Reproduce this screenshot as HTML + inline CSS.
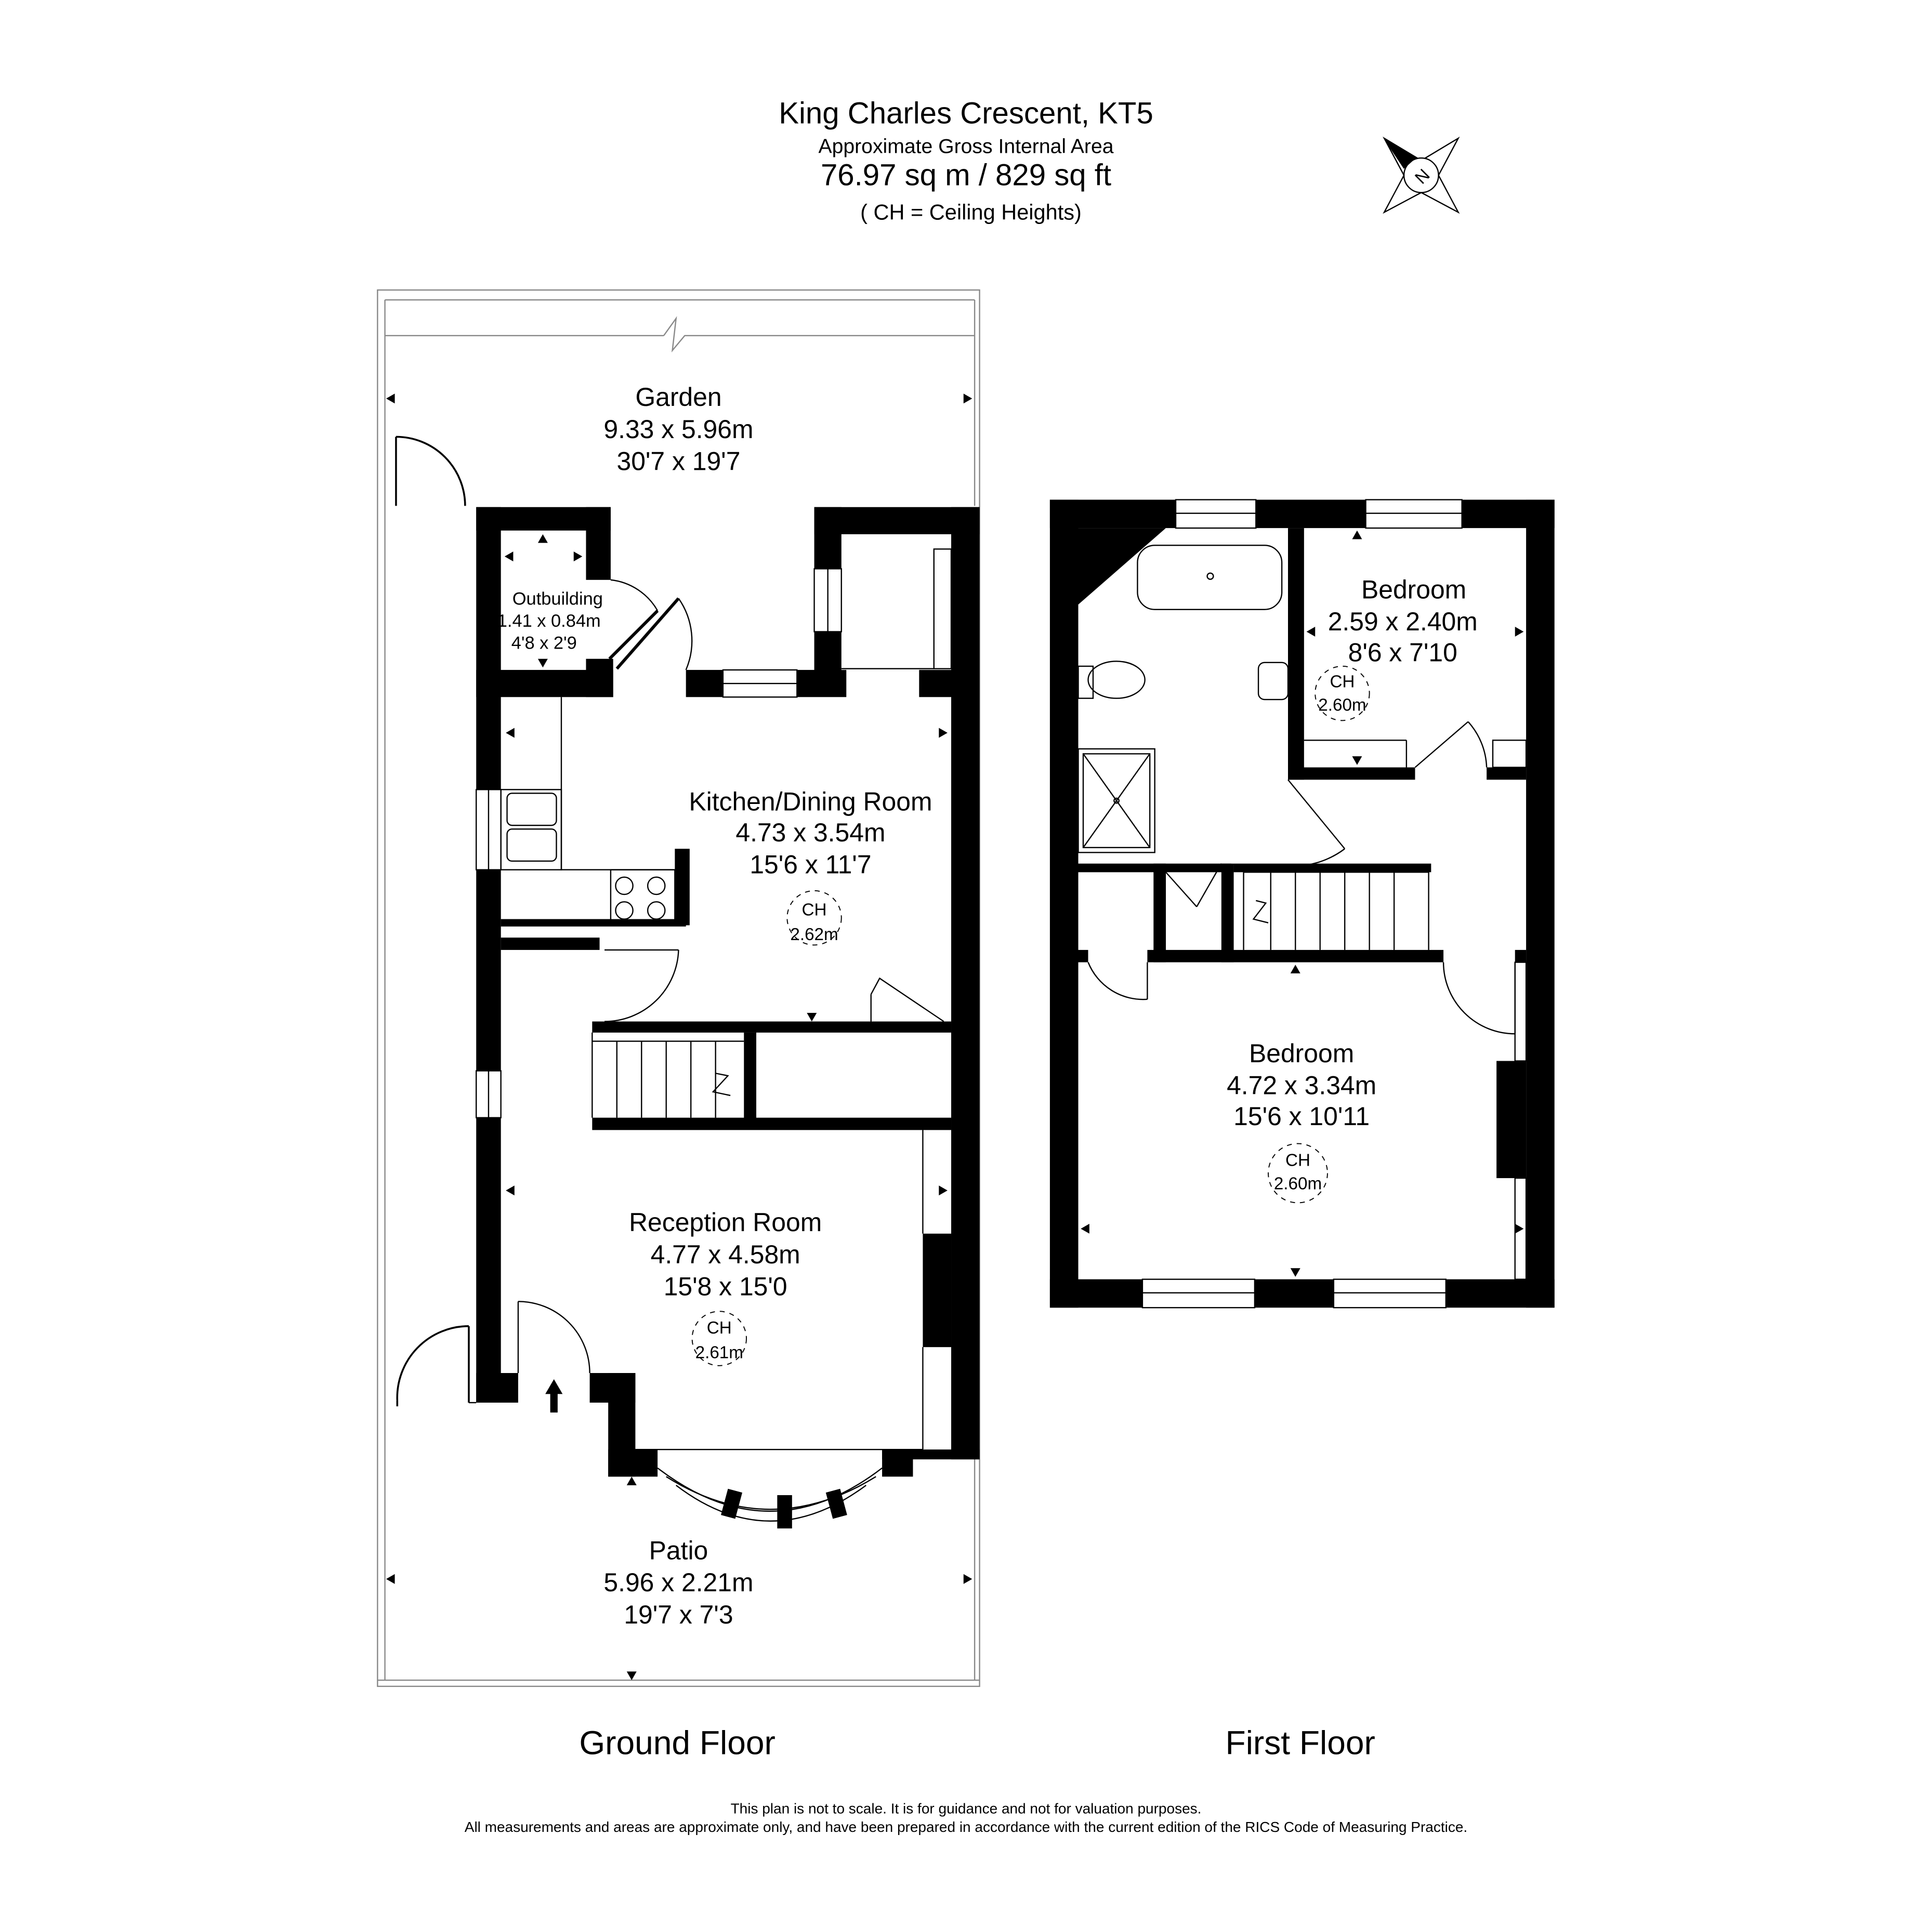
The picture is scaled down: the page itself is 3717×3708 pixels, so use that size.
<!DOCTYPE html>
<html><head><meta charset="utf-8"><style>
html,body{margin:0;padding:0;background:#fff}
svg{display:block}
text{font-family:"Liberation Sans",Arial,sans-serif;fill:#000}
</style></head><body>
<svg width="3717" height="3708" viewBox="0 0 1566 1562" xmlns="http://www.w3.org/2000/svg">
<rect width="1566" height="1562" fill="#fff"/>
<text x="783" y="100" font-size="24.5" text-anchor="middle">King Charles Crescent, KT5</text>
<text x="783" y="124" font-size="16.5" text-anchor="middle">Approximate Gross Internal Area</text>
<text x="783" y="150" font-size="24.5" text-anchor="middle">76.97 sq m /  829 sq ft</text>
<text x="787" y="178" font-size="17.5" text-anchor="middle">( CH = Ceiling Heights)</text>
<g stroke="#000" stroke-width="1" fill="#fff">
<polygon points="1122,112 1152,130 1182,112 1166,142 1182,172 1152,156 1122,172 1138,142"/>
<circle cx="1152" cy="142" r="14"/>
<polygon points="1122,112 1147,128 1138,136" fill="#000"/>
</g>
<text x="1152" y="148" font-size="14" text-anchor="middle" transform="rotate(-45 1152 142)">N</text>

<g fill="none" stroke="#888" stroke-width="1">
<rect x="306" y="235" width="488" height="1132"/>
<line x1="312" y1="243" x2="790" y2="243"/>
<line x1="312" y1="243" x2="312" y2="1362"/>
<line x1="306" y1="1362" x2="794" y2="1362"/>
<line x1="312" y1="272" x2="538" y2="272"/><polyline points="538,272 548,258 545,284 555,272 790,272"/>
<line x1="790" y1="243" x2="790" y2="410"/>
<line x1="790" y1="1183" x2="790" y2="1362"/>
</g>
<g fill="none" stroke="#000" stroke-width="1.5">
<line x1="321" y1="354" x2="321" y2="410"/><path d="M321,354 A56,56 0 0 1 377,410"/>
<line x1="380" y1="1075" x2="380" y2="1137"/><path d="M380,1075 A58,58 0 0 0 322,1135"/>
<line x1="322" y1="1135" x2="322" y2="1140"/>
</g>

<g fill="#000">
<rect x="386" y="411" width="109" height="19"/>
<rect x="386" y="411" width="20" height="726"/>
<rect x="475" y="411" width="20" height="59"/>
<rect x="475" y="534" width="22" height="31"/>
<rect x="386" y="543" width="111" height="22"/>
<rect x="556" y="543" width="30" height="22"/>
<rect x="646" y="543" width="40" height="22"/>
<rect x="745" y="543" width="30" height="22"/>
<rect x="660" y="411" width="134" height="22"/>
<rect x="660" y="411" width="22" height="50"/>
<rect x="660" y="512" width="22" height="50"/>
<rect x="771" y="411" width="23" height="772"/>
<rect x="406" y="745" width="150" height="6"/>
<rect x="547" y="688" width="12" height="62"/>
<rect x="406" y="760" width="80" height="10"/>
<rect x="480" y="828" width="291" height="9"/>
<rect x="480" y="906" width="291" height="10"/>
<rect x="603" y="837" width="10" height="70"/>
<rect x="748" y="1000" width="23" height="92"/>
<rect x="386" y="1113" width="34" height="24"/>
<rect x="478" y="1113" width="37" height="24"/>
<rect x="493" y="1113" width="22" height="84"/>
<rect x="493" y="1175" width="40" height="22"/>
<rect x="715" y="1175" width="79" height="8"/>
<rect x="715" y="1175" width="25" height="22"/>
</g>
<g fill="#fff" stroke="#000" stroke-width="1">
<rect x="586" y="543" width="60" height="22"/><line x1="586" y1="554" x2="646" y2="554"/>
<rect x="660" y="461" width="22" height="51"/><line x1="671" y1="461" x2="671" y2="512"/>
<rect x="386" y="640" width="20" height="65"/><line x1="396" y1="640" x2="396" y2="705"/>
<rect x="386" y="868" width="20" height="38"/><line x1="396" y1="868" x2="396" y2="906"/>
<rect x="757" y="445" width="14" height="97"/>
</g>
<g fill="none" stroke="#000" stroke-width="1">
<path d="M533,1190 Q624,1260 715,1190"/>
<path d="M540,1197 Q624,1250 710,1197"/>
<path d="M548,1204 Q624,1262 702,1204"/>
</g>
<g fill="#000">
<rect x="587" y="1208" width="12" height="22" transform="rotate(15 593 1219)"/>
<rect x="630" y="1212" width="12" height="27"/>
<rect x="672" y="1208" width="12" height="22" transform="rotate(-15 678 1219)"/>
</g>
<g fill="none" stroke="#000" stroke-width="2.5">
<line x1="494" y1="534" x2="533" y2="495"/><line x1="500" y1="542" x2="550" y2="485"/>
</g>
<g fill="none" stroke="#000" stroke-width="1">
<path d="M495,470 A50,50 0 0 1 533,495"/>
<path d="M550,485 A60,60 0 0 1 556,543"/>
<line x1="682" y1="542" x2="757" y2="542"/>
<polyline points="455,565 455,705 547,705"/>
<rect x="406" y="640" width="49" height="65"/>
<rect x="411" y="643" width="40" height="26" rx="4"/><rect x="411" y="672" width="40" height="26" rx="4"/>
<rect x="495" y="705" width="52" height="45"/>
<circle cx="506" cy="718" r="7"/><circle cx="532" cy="718" r="7"/><circle cx="506" cy="738" r="7"/><circle cx="532" cy="738" r="7"/>
<line x1="490" y1="770" x2="550" y2="770"/><path d="M550,770 A60,60 0 0 1 490,828"/>
<line x1="480" y1="844" x2="603" y2="844"/>
<line x1="480" y1="906" x2="480" y2="837"/>
<line x1="500" y1="844" x2="500" y2="906"/><line x1="520" y1="844" x2="520" y2="906"/><line x1="540" y1="844" x2="540" y2="906"/><line x1="560" y1="844" x2="560" y2="906"/><line x1="580" y1="844" x2="580" y2="906"/>
<polyline points="580,870 590,872 578,885 592,888"/>
<line x1="706" y1="828" x2="706" y2="806"/><path d="M706,806 L713,793 L765,828"/>
<line x1="748" y1="916" x2="748" y2="1000"/><line x1="748" y1="1092" x2="748" y2="1175"/>
<line x1="515" y1="1175" x2="748" y2="1175"/>
<line x1="420" y1="1055" x2="420" y2="1113"/><path d="M420,1055 A58,58 0 0 1 478,1113"/>
<line x1="380" y1="1137" x2="386" y2="1137"/>
</g>
<polygon points="442,1130 449,1118 456,1130 452,1130 452,1145 446,1145 446,1130" fill="#000"/>
<g fill="#000">
<polygon points="313,323 320,319 320,327"/><polygon points="788,323 781,319 781,327"/>
<polygon points="313,1280 320,1276 320,1284"/><polygon points="788,1280 781,1276 781,1284"/>
<polygon points="512,1362 508,1355 516,1355"/>
<polygon points="410,594 417,590 417,598"/><polygon points="768,594 761,590 761,598"/>
<polygon points="658,828 654,821 662,821"/>
<polygon points="410,965 417,961 417,969"/><polygon points="768,965 761,961 761,969"/>
<polygon points="512,1197 508,1204 516,1204"/>
<polygon points="440,433 436,440 444,440"/><polygon points="440,541 436,534 444,534"/>
<polygon points="409,451 416,447 416,455"/><polygon points="472,451 465,447 465,455"/>
<polygon points="412,770 408,762 416,762"/>
</g>
<text x="550" y="329" font-size="21" text-anchor="middle">Garden</text>
<text x="550" y="355" font-size="21" text-anchor="middle">9.33 x 5.96m</text>
<text x="550" y="381" font-size="21" text-anchor="middle">30'7 x 19'7</text>
<text x="452" y="490" font-size="14.5" text-anchor="middle">Outbuilding</text>
<text x="445" y="508" font-size="14.5" text-anchor="middle">1.41 x 0.84m</text>
<text x="441" y="526" font-size="14.5" text-anchor="middle">4'8 x 2'9</text>
<text x="657" y="657" font-size="21" text-anchor="middle">Kitchen/Dining Room</text>
<text x="657" y="682" font-size="21" text-anchor="middle">4.73 x 3.54m</text>
<text x="657" y="708" font-size="21" text-anchor="middle">15'6 x 11'7</text>
<circle cx="660" cy="744" r="22" fill="none" stroke="#000" stroke-width="0.8" stroke-dasharray="4,4"/>
<text x="660" y="742" font-size="14" text-anchor="middle">CH</text>
<text x="660" y="762" font-size="14" text-anchor="middle">2.62m</text>
<text x="588" y="998" font-size="21" text-anchor="middle">Reception Room</text>
<text x="588" y="1024" font-size="21" text-anchor="middle">4.77 x 4.58m</text>
<text x="588" y="1050" font-size="21" text-anchor="middle">15'8 x 15'0</text>
<circle cx="583" cy="1085" r="22" fill="none" stroke="#000" stroke-width="0.8" stroke-dasharray="4,4"/>
<text x="583" y="1081" font-size="14" text-anchor="middle">CH</text>
<text x="583" y="1101" font-size="14" text-anchor="middle">2.61m</text>
<text x="550" y="1264" font-size="21" text-anchor="middle">Patio</text>
<text x="550" y="1290" font-size="21" text-anchor="middle">5.96 x 2.21m</text>
<text x="550" y="1316" font-size="21" text-anchor="middle">19'7 x 7'3</text>
<text x="549" y="1422" font-size="27" text-anchor="middle">Ground Floor</text>

<g fill="#000">
<rect x="851" y="405" width="409" height="23"/>
<rect x="851" y="405" width="23" height="655"/>
<rect x="1237" y="405" width="23" height="655"/>
<rect x="851" y="1037" width="409" height="23"/>
<polygon points="874,428 945,428 874,490"/>
<rect x="1044" y="428" width="13" height="204"/>
<rect x="1044" y="622" width="103" height="10"/>
<rect x="1205" y="622" width="32" height="10"/>
<rect x="874" y="700" width="124" height="7"/>
<rect x="1000" y="700" width="160" height="7"/>
<rect x="935" y="700" width="10" height="80"/>
<rect x="990" y="700" width="10" height="80"/>
<rect x="874" y="770" width="8" height="10"/>
<rect x="930" y="770" width="240" height="10"/>
<rect x="1228" y="770" width="9" height="10"/>
<rect x="1213" y="860" width="24" height="95"/>
</g>
<g fill="#fff" stroke="#000" stroke-width="1">
<rect x="953" y="405" width="65" height="23"/><line x1="953" y1="416" x2="1018" y2="416"/>
<rect x="1107" y="405" width="78" height="23"/><line x1="1107" y1="416" x2="1185" y2="416"/>
<rect x="926" y="1037" width="91" height="23"/><line x1="926" y1="1048" x2="1017" y2="1048"/>
<rect x="1081" y="1037" width="91" height="23"/><line x1="1081" y1="1048" x2="1172" y2="1048"/>
<rect x="1228" y="780" width="9" height="80"/>
<rect x="1228" y="955" width="9" height="82"/>
</g>
<g fill="none" stroke="#000" stroke-width="1">
<rect x="922" y="442" width="117" height="52" rx="14"/>
<circle cx="981" cy="467" r="2.5"/>
<rect x="874" y="540" width="12" height="26"/><ellipse cx="905" cy="551" rx="23" ry="15"/>
<rect x="1020" y="537" width="24" height="30" rx="5"/>
<rect x="874" y="607" width="62" height="84"/><rect x="878" y="611" width="54" height="76"/>
<line x1="878" y1="611" x2="932" y2="687"/><line x1="932" y1="611" x2="878" y2="687"/><circle cx="905" cy="649" r="2"/>
<line x1="1057" y1="600" x2="1140" y2="600"/><line x1="1140" y1="600" x2="1140" y2="622"/>
<rect x="1210" y="600" width="27" height="22"/>
<line x1="1044" y1="632" x2="1090" y2="688"/><path d="M1090,688 A70,70 0 0 1 1044,702"/>
<line x1="1147" y1="622" x2="1190" y2="585"/><path d="M1190,585 A58,58 0 0 1 1205,622"/>
<line x1="945" y1="707" x2="970" y2="735"/><line x1="970" y1="735" x2="990" y2="700"/>
<line x1="1008" y1="707" x2="1008" y2="770"/><line x1="1158" y1="707" x2="1158" y2="770"/>
<line x1="1008" y1="707" x2="1158" y2="707"/>
<line x1="1030" y1="707" x2="1030" y2="770"/><line x1="1050" y1="707" x2="1050" y2="770"/><line x1="1070" y1="707" x2="1070" y2="770"/><line x1="1090" y1="707" x2="1090" y2="770"/><line x1="1110" y1="707" x2="1110" y2="770"/><line x1="1130" y1="707" x2="1130" y2="770"/>
<polyline points="1018,730 1026,732 1016,745 1028,748"/>
<line x1="930" y1="780" x2="930" y2="810"/><path d="M882,780 A48,48 0 0 0 930,810"/>
<line x1="1228" y1="838" x2="1228" y2="780"/><path d="M1170,780 A58,58 0 0 0 1228,838"/>
</g>
<g fill="#000">
<polygon points="1100,430 1096,437 1104,437"/><polygon points="1100,620 1096,613 1104,613"/>
<polygon points="1059,512 1066,508 1066,516"/><polygon points="1235,512 1228,508 1228,516"/>
<polygon points="1050,782 1046,789 1054,789"/><polygon points="1050,1035 1046,1028 1054,1028"/>
<polygon points="876,996 883,992 883,1000"/><polygon points="1235,996 1228,992 1228,1000"/>
</g>
<text x="1146" y="485" font-size="21" text-anchor="middle">Bedroom</text>
<text x="1137" y="511" font-size="21" text-anchor="middle">2.59 x 2.40m</text>
<text x="1137" y="536" font-size="21" text-anchor="middle">8'6 x 7'10</text>
<circle cx="1088" cy="562" r="22" fill="none" stroke="#000" stroke-width="0.8" stroke-dasharray="4,4"/>
<text x="1088" y="557" font-size="14" text-anchor="middle">CH</text>
<text x="1088" y="576" font-size="14" text-anchor="middle">2.60m</text>
<text x="1055" y="861" font-size="21" text-anchor="middle">Bedroom</text>
<text x="1055" y="887" font-size="21" text-anchor="middle">4.72 x 3.34m</text>
<text x="1055" y="912" font-size="21" text-anchor="middle">15'6 x 10'11</text>
<circle cx="1052" cy="951" r="24" fill="none" stroke="#000" stroke-width="0.8" stroke-dasharray="4,4"/>
<text x="1052" y="945" font-size="14" text-anchor="middle">CH</text>
<text x="1052" y="964" font-size="14" text-anchor="middle">2.60m</text>
<text x="1054" y="1422" font-size="27" text-anchor="middle">First Floor</text>

<text x="783" y="1470" font-size="11.8" text-anchor="middle">This plan is not to scale. It is for guidance and not for valuation purposes.</text>
<text x="783" y="1485" font-size="11.8" text-anchor="middle">All measurements and areas are approximate only, and have been prepared in accordance with the current edition of the RICS Code of Measuring Practice.</text>
</svg>
</body></html>
